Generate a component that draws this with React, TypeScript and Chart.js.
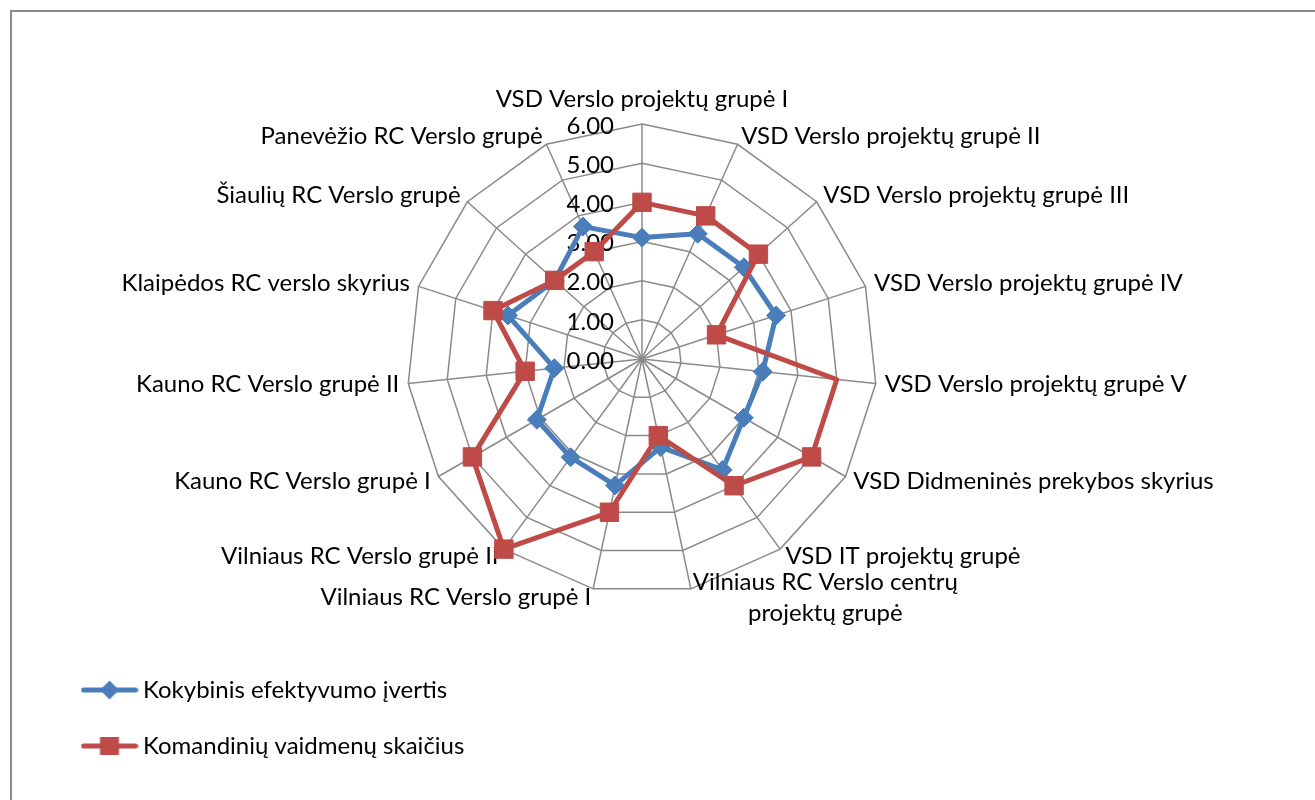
import React, { useEffect, useRef } from 'react';
import { Chart, registerables } from 'chart.js';

Chart.register(...registerables);

// Spokes, clockwise from the top
const CATEGORIES: (string | string[])[] = [
  'VSD Verslo projektų grupė I',
  'VSD Verslo projektų grupė II',
  'VSD Verslo projektų grupė III',
  'VSD Verslo projektų grupė IV',
  'VSD Verslo projektų grupė V',
  'VSD Didmeninės prekybos skyrius',
  'VSD IT projektų grupė',
  ['Vilniaus RC Verslo centrų', 'projektų grupė'],
  'Vilniaus RC Verslo grupė I',
  'Vilniaus RC Verslo grupė II',
  'Kauno RC Verslo grupė I',
  'Kauno RC Verslo grupė II',
  'Klaipėdos RC verslo skyrius',
  'Šiaulių RC Verslo grupė',
  'Panevėžio RC Verslo grupė',
];

const SERIES_NAMES = ['Kokybinis efektyvumo įvertis', 'Komandinių vaidmenų skaičius'];

const QUALITY = [3.1, 3.5, 3.5, 3.6, 3.1, 3.0, 3.5, 2.3, 3.3, 3.1, 3.1, 2.25, 3.6, 3.0, 3.7];
const ROLES = [4, 4, 4, 2, 5, 5, 4, 2, 4, 6, 5, 3, 4, 3, 3];

const AXIS_MIN = 0;
const AXIS_MAX = 6;
const AXIS_STEP = 1;

const BLUE = '#4A7EBB';
const RED = '#BE4B48';
const GRID = '#8A8A8A';
const FONT = 'Lato';
const TEXT_SIZE = 24;
const LINE_HEIGHT = 31;
const WEB_RADIUS = 235;

// Legend symbol: a short line with the series marker in its middle
function makeSwatch(color: string, marker: 'diamond' | 'square'): HTMLCanvasElement {
  const c = document.createElement('canvas');
  c.width = 58;
  c.height = 22;
  const g = c.getContext('2d')!;
  g.strokeStyle = color;
  g.lineWidth = 5;
  g.lineCap = 'round';
  g.beginPath();
  g.moveTo(3, 11);
  g.lineTo(55, 11);
  g.stroke();
  g.fillStyle = color;
  g.beginPath();
  if (marker === 'diamond') {
    g.moveTo(19.5, 11);
    g.lineTo(29, 1.5);
    g.lineTo(38.5, 11);
    g.lineTo(29, 20.5);
    g.closePath();
  } else {
    g.rect(19.5, 2, 19, 18);
  }
  g.fill();
  return c;
}

// Category names around the web and value labels beside the vertical spoke
const webLabels = {
  id: 'webLabels',
  beforeDatasetsDraw(chart: any) {
    const scale = chart.scales.r;
    const ctx = chart.ctx as CanvasRenderingContext2D;
    ctx.save();
    ctx.font = `${TEXT_SIZE}px ${FONT}`;
    ctx.fillStyle = '#000';
    ctx.textBaseline = 'middle';

    // value labels
    ctx.textAlign = 'right';
    scale.ticks.forEach((t: any) => {
      const d = scale.getDistanceFromCenterForValue(t.value);
      ctx.fillText(t.label, scale.xCenter - 28, scale.yCenter - d + 2);
    });

    // category labels
    ctx.textAlign = 'center';
    CATEGORIES.forEach((label, i) => {
      const lines = Array.isArray(label) ? label : [label];
      const p = scale.getPointPosition(i, scale.drawingArea + 9);
      const a = scale.getIndexAngle(i);
      const s = Math.sin(a);
      const c = Math.cos(a);
      const blockW = Math.max(...lines.map((t) => ctx.measureText(t).width));
      const blockH = lines.length * LINE_HEIGHT;
      let left: number;
      if (Math.abs(s) < 1e-6) left = p.x - blockW / 2;
      else if (s > 0) left = p.x;
      else left = p.x - blockW;
      let top: number;
      if (c > 0.999) top = p.y - blockH;
      else if (c < -0.999) top = p.y;
      else top = p.y - blockH / 2;
      lines.forEach((t, k) => {
        ctx.fillText(t, left + blockW / 2, top + LINE_HEIGHT * (k + 0.5));
      });
    });
    ctx.restore();
  },
};

export default function App() {
  const ref = useRef<HTMLCanvasElement>(null);

  useEffect(() => {
    const swatches = [makeSwatch(BLUE, 'diamond'), makeSwatch(RED, 'square')];
    const chart = new Chart(ref.current!, {
      type: 'radar',
      data: {
        labels: CATEGORIES as any,
        datasets: [
          {
            label: SERIES_NAMES[0],
            data: QUALITY,
            borderColor: BLUE,
            backgroundColor: BLUE,
            borderWidth: 5,
            borderJoinStyle: 'round',
            fill: false,
            pointStyle: 'rectRot',
            pointRadius: 9.5,
            pointBackgroundColor: BLUE,
            pointBorderColor: BLUE,
            pointBorderWidth: 1,
            order: 2,
            clip: false,
          } as any,
          {
            label: SERIES_NAMES[1],
            data: ROLES,
            borderColor: RED,
            backgroundColor: RED,
            borderWidth: 5,
            borderJoinStyle: 'round',
            fill: false,
            pointStyle: 'rect',
            pointRadius: 13,
            pointBackgroundColor: RED,
            pointBorderColor: RED,
            pointBorderWidth: 1,
            order: 1,
            clip: false,
          } as any,
        ],
      },
      options: {
        responsive: false,
        devicePixelRatio: 1,
        animation: false,
        layout: { padding: { left: 56, right: 505, top: 28, bottom: 10 } },
        scales: {
          r: {
            min: AXIS_MIN,
            max: AXIS_MAX,
            startAngle: 0,
            ticks: {
              stepSize: AXIS_STEP,
              display: false,
              callback: (v: any) => Number(v).toFixed(2),
            },
            grid: { color: GRID, lineWidth: 1.5, circular: false },
            angleLines: { color: GRID, lineWidth: 1.5 },
            pointLabels: { display: false },
            // the web keeps a fixed radius, centred in the plot area
            afterFit: (scale: any) => {
              scale.drawingArea = WEB_RADIUS;
            },
          },
        },
        plugins: {
          tooltip: { enabled: false },
          legend: {
            position: 'left',
            align: 'end',
            maxWidth: 420,
            labels: {
              usePointStyle: true,
              pointStyleWidth: 43,
              padding: 32,
              color: '#000',
              font: { family: FONT, size: TEXT_SIZE },
              sort: (a: any, b: any) => a.datasetIndex - b.datasetIndex,
              generateLabels: (c: any) =>
                (Chart.defaults.plugins.legend.labels.generateLabels as any)(c).map(
                  (item: any) => ({ ...item, pointStyle: swatches[item.datasetIndex] })
                ),
            },
          },
        },
      } as any,
      plugins: [webLabels],
    });
    return () => chart.destroy();
  }, []);

  return (
    <div
      style={{
        position: 'fixed',
        left: 0,
        top: 0,
        width: 1315,
        height: 800,
        overflow: 'hidden',
        background: '#fff',
      }}
    >
      <div
        style={{
          position: 'absolute',
          left: 10,
          top: 10,
          width: 1400,
          height: 900,
          borderLeft: '2px solid #8a8a8a',
          borderTop: '2px solid #8a8a8a',
        }}
      />
      <canvas
        ref={ref}
        width={1315}
        height={900}
        style={{ position: 'absolute', left: 0, top: -100, width: 1315, height: 900 }}
      />
    </div>
  );
}
